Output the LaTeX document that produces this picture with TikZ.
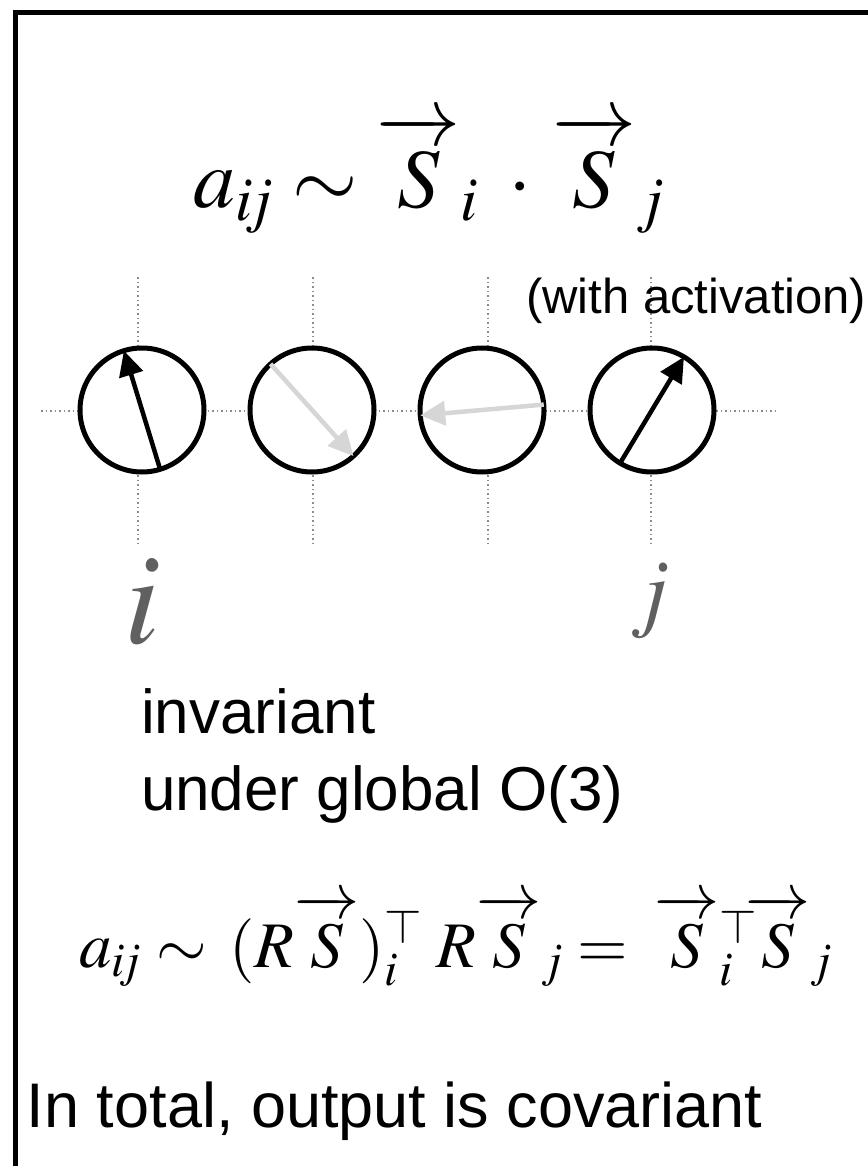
\documentclass[tikz,border=0pt]{standalone}
\usepackage{mathptmx}
\DeclareFontFamily{OMS}{bigcmsy}{\skewchar\font48 }
\DeclareFontShape{OMS}{bigcmsy}{m}{n}{<->cmsy10}{}
\DeclareSymbolFont{symbols}{OMS}{bigcmsy}{m}{n}
\usepackage[no-math]{fontspec}
\setmainfont{Liberation Sans}
\usetikzlibrary{arrows.meta}
\definecolor{SpinGray}{HTML}{D6D6D6}
\definecolor{GridGray}{HTML}{8C8C8C}
\definecolor{LabelGray}{HTML}{606060}
\makeatletter
\newcommand\spinvec{\vbox{\m@th\ialign{##\crcr
  $\mathord{\mathchar"2200}\mkern-7mu\cleaders\hbox{$\mkern-2mu\mathchar"2200\mkern-2mu$}\hfill\mkern-7mu\mathord{\rightarrow}$\crcr
  \noalign{\kern-\p@\nointerlineskip}$\hfil S\hfil$\crcr}}}
\makeatother

\begin{document}
\begin{tikzpicture}[x=1pt,y=-1pt,line join=miter,
  every node/.style={inner sep=0pt,outer sep=0pt},
  grid line/.style={GridGray,line width=1.5pt,dash pattern=on 1.5pt off 3pt},
  site/.style={circle,draw,line width=5pt,fill=white,minimum size=124pt},
  spin/.style={line width=4.5pt,-{Triangle[length=25pt,width=24pt]}},
  txt/.style={anchor=base west,font=\fontsize{62}{74}\selectfont}]
  \useasboundingbox (0,0) rectangle (867,1166);
  \draw[line width=5pt] (15,1175) -- (15,13) -- (875,13);
  \node[anchor=base west,font=\fontsize{84}{100}\selectfont] (dotprod) at (193,208)
    {$a_{i\mkern-2mu j}\sim\spinvec_i\kern18pt\cdot\kern9pt\spinvec_j$};
  % lattice
  \foreach \x in {138,313,488,651}{\draw[grid line] (\x,277) -- (\x,543);}
  \draw[grid line] (41,411) -- (778,411);
  \node[anchor=base west,font=\fontsize{49}{58}\selectfont] (act) at (526,313) {(with activation)};
  \foreach \x/\n in {142/1,312/2,482/3,652/4}{\node[site] (s\n) at (\x,410) {};}
  \draw[spin] (s1.287) -- (s1.107);
  \draw[spin,SpinGray] (s2.132) -- (s2.-48);
  \draw[spin,SpinGray] (s3.5) -- (s3.185);
  \draw[spin] (s4.239) -- (s4.59);
  \node[anchor=base,font=\fontsize{130}{150}\selectfont,text=LabelGray] (labi) at (143,643) {$i$};
  \node[anchor=base,font=\fontsize{88}{100}\selectfont,text=LabelGray] (labj) at (650,620) {$j$};
  % text
  \node[txt] (inv) at (141,733) {invariant};
  \node[txt] (glob) at (141,810) {under global O(3)};
  \node[anchor=base west,font=\fontsize{65}{78}\selectfont] (rot) at (79,967)
    {$a_{i\mkern-2mu j}\sim\kern8pt(R\spinvec)_i^{\top}\kern14pt R\spinvec_j=\kern12pt\spinvec{}_i^{\top}\kern-12pt\spinvec_j$};
  \node[txt,font=\fontsize{63}{75}\selectfont] (total) at (27,1127) {In total, output is covariant};
\end{tikzpicture}
\end{document}
